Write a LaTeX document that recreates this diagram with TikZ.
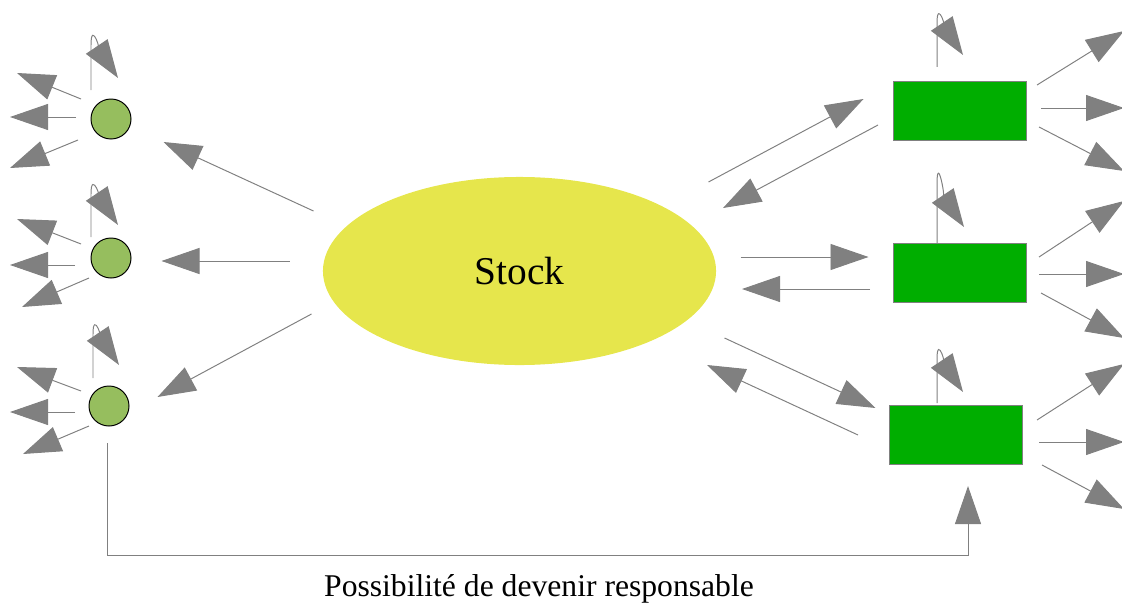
\documentclass[tikz,border=0pt]{standalone}
\usepackage{fontspec}
\setmainfont{Liberation Serif}
\usepackage{tikz}
\usetikzlibrary{arrows.meta,shapes.geometric}
\definecolor{stockyellow}{HTML}{E6E64C}
\definecolor{agentgreen}{HTML}{96BE5E}
\definecolor{respgreen}{HTML}{00AE00}
\definecolor{arrowgray}{HTML}{808080}

\begin{document}
\begin{tikzpicture}[x=0.025cm,y=0.025cm,
  agent/.style={draw=black,line width=0.7pt,fill=agentgreen,circle,minimum size=1cm,inner sep=0pt},
  resp/.style={draw=arrowgray,line width=0.7pt,fill=respgreen,rectangle,minimum width=3.325cm,minimum height=1.475cm,inner sep=0pt},
  arr/.style={draw=arrowgray,line width=0.7pt,-{Triangle[length=0.95cm,width=0.65cm]}},
  selfloop/.style={out=90,in=124,looseness=1.6}]
\useasboundingbox (0,0) rectangle (1122,-604);

\node [agent] (c1) at (111,-119) {};
\node [agent] (c2) at (111,-258) {};
\node [agent] (c3) at (109,-406) {};
\node [ellipse, fill=stockyellow, minimum width=9.825cm, minimum height=4.7cm, font=\fontsize{28}{34}\selectfont] (stock) at (519.5,-271) {Stock};
\node [resp] (r1) at (959.5,-111) {};
\node [resp] (r2) at (959.5,-272.5) {};
\node [resp] (r3) at (955.5,-435) {};
\node [anchor=base, font=\fontsize{22.5}{27}\selectfont] (label) at (539,-596) {Possibilité de devenir responsable};

% stock -> agents
\draw [arr] (stock) ++(-206,60) -- ++(-150,69);
\draw [arr] (stock) ++(-230,10) -- ++(-128,0);
\draw [arr] (stock) ++(-208,-43) -- ++(-154,-83);

% stock <-> responsables
\draw [arr] (stock) ++(189,89) -- ++(155,83);
\draw [arr] (r1) ++(-81.5,-14) -- ++(-155,-83);
\draw [arr] (stock) ++(221,14) -- ++(128,0);
\draw [arr] (r2) ++(-89.5,-16.5) -- ++(-128,0);
\draw [arr] (stock) ++(205,-67) -- ++(151,-70);
\draw [arr] (r3) ++(-97.5,0) -- ++(-151,70);

% agents
\draw [arr] (c1) ++(-20,29) -- ++(0,45) to [selfloop] ++(27,-33);
\draw [arr] (c1) ++(-30,20) -- ++(-64,26);
\draw [arr] (c1) ++(-35,2) -- ++(-66,0);
\draw [arr] (c1) ++(-33,-21) -- ++(-68,-28);

\draw [arr] (c2) ++(-20,21) -- ++(0,43) to [selfloop] ++(27,-31);
\draw [arr] (c2) ++(-30,14) -- ++(-64,25);
\draw [arr] (c2) ++(-36,-7) -- ++(-65,0);
\draw [arr] (c2) ++(-22,-20) -- ++(-67,-29);

\draw [arr] (c3) ++(-16,28) -- ++(0,44) to [selfloop] ++(26,-31);
\draw [arr] (c3) ++(-28,15) -- ++(-64,24);
\draw [arr] (c3) ++(-34,-6) -- ++(-65,0);
\draw [arr] (c3) ++(-20,-20) -- ++(-66,-28);

% responsables
\draw [arr] (r1) ++(-22.5,44) -- ++(0,44) to [selfloop] ++(26,-32);
\draw [arr] (r1) ++(77.5,26) -- ++(87,54);
\draw [arr] (r1) ++(81.5,3) -- ++(83,0);
\draw [arr] (r1) ++(79.5,-16) -- ++(85,-44);

\draw [arr] (r2) ++(-22.5,29.5) -- ++(0,59) to [selfloop] ++(27,-43);
\draw [arr] (r2) ++(79.5,15.5) -- ++(85,56);
\draw [arr] (r2) ++(79.5,-1.5) -- ++(85,0);
\draw [arr] (r2) ++(81.5,-20.5) -- ++(83,-45);

\draw [arr] (r3) ++(-18.5,32) -- ++(0,44) to [selfloop] ++(26,-33);
\draw [arr] (r3) ++(81.5,15) -- ++(87,56);
\draw [arr] (r3) ++(83.5,-7) -- ++(85,0);
\draw [arr] (r3) ++(86.5,-30) -- ++(82,-44);

% agent -> responsable
\draw [arr] (c3) ++(-2,-37) -- ++(0,-112) -- ++(861,0) -- ++(0,69);
\end{tikzpicture}
\end{document}
